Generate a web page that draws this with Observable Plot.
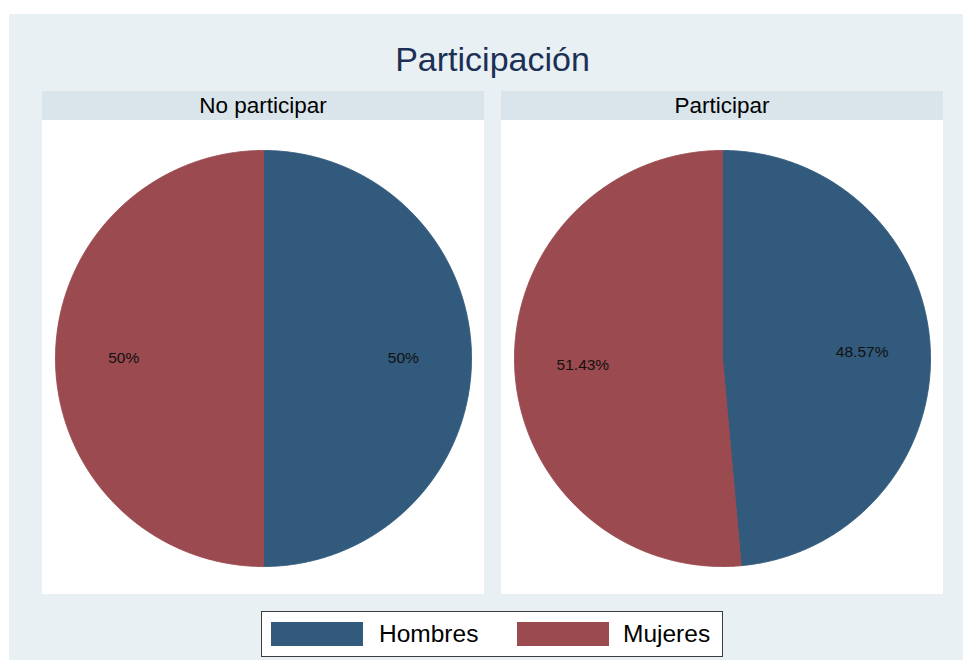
<!DOCTYPE html>
<html>
<head>
<meta charset="utf-8">
<script src="https://cdn.jsdelivr.net/npm/d3@7"></script>
<script src="https://cdn.jsdelivr.net/npm/@observablehq/plot@0.6"></script>
<style>
  html, body { margin: 0; padding: 0; background: #ffffff; }
  body { width: 963px; height: 660px; overflow: hidden; position: relative; font-family: "Liberation Sans", Arial, sans-serif; }
  #frame { position: absolute; left: 9px; top: 14px; width: 954px; height: 646px; background: #e9f0f3; }
  #title { position: absolute; left: 33px; width: 901px; top: 28px; text-align: center; font-size: 34px; line-height: 1; color: #1c2f55; }
  .panel { position: absolute; top: 77px; width: 442px; height: 503px; background: #ffffff; }
  .strip { height: 29px; line-height: 29px; background: #d9e5eb; text-align: center; font-size: 22.5px; color: #000; }
  .panel svg { display: block; }
  #legend { position: absolute; left: 252px; top: 597px; width: 460px; height: 44px; background: #fff; border: 1px solid #3c3c3c; }
  .sw { position: absolute; top: 10px; width: 92px; height: 24px; }
  .lt { position: absolute; top: 9px; font-size: 24.5px; line-height: 26px; color: #000; }
</style>
</head>
<body>
<div id="frame">
  <div id="title">Participación</div>
  <div class="panel" id="p0" style="left:33px"><div class="strip"></div></div>
  <div class="panel" id="p1" style="left:492px"><div class="strip"></div></div>
  <div id="legend"></div>
</div>
<script>
// ---- data ----
const panels = ["No participar", "Participar"];
const groups = ["Hombres", "Mujeres"];
const noParticipar = [50, 50];
const participar = [48.57, 51.43];
const colors = ["#325a7c", "#9b4a4f"];

const series = [noParticipar, participar];

function pieData(values) {
  const arcs = d3.pie().sort(null).startAngle(0).endAngle(2 * Math.PI)(values);
  const outline = [];
  const labels = [];
  arcs.forEach((a, i) => {
    const g = groups[i];
    outline.push({group: g, x: 0, y: 0});
    const n = Math.max(2, Math.ceil((a.endAngle - a.startAngle) / (Math.PI / 720)));
    for (let k = 0; k <= n; k++) {
      const t = a.startAngle + (a.endAngle - a.startAngle) * k / n;
      outline.push({group: g, x: Math.sin(t), y: Math.cos(t)});
    }
    outline.push({group: g, x: 0, y: 0});
    const m = (a.startAngle + a.endAngle) / 2;
    labels.push({group: g, x: 0.672 * Math.sin(m), y: 0.672 * Math.cos(m), text: `${values[i]}%`});
  });
  return {outline, labels};
}

panels.forEach((name, p) => {
  const el = document.getElementById("p" + p);
  el.querySelector(".strip").textContent = name;
  const {outline, labels} = pieData(series[p]);
  const chart = Plot.plot({
    width: 442,
    height: 474,
    marginLeft: 13, marginRight: 13, marginTop: 30, marginBottom: 28,
    x: {domain: [-1, 1], axis: null},
    y: {domain: [-1, 1], axis: null},
    color: {domain: groups, range: colors},
    style: {background: "#ffffff", fontFamily: "'Liberation Sans', Arial, sans-serif"},
    marks: [
      Plot.line(outline, {x: "x", y: "y", z: "group", fill: "group", stroke: "group", strokeWidth: 1, curve: "linear"}),
      Plot.text(labels, {x: "x", y: "y", text: "text", fontSize: 15.5, fill: "#111"})
    ]
  });
  el.appendChild(chart);
});

// legend
const legend = document.getElementById("legend");
const swX = [9, 255];
const txX = [117, 361];
groups.forEach((g, i) => {
  const s = document.createElement("div");
  s.className = "sw";
  s.style.left = swX[i] + "px";
  s.style.background = colors[i];
  legend.appendChild(s);
  const t = document.createElement("div");
  t.className = "lt";
  t.style.left = txX[i] + "px";
  t.textContent = g;
  legend.appendChild(t);
});
</script>
</body>
</html>
